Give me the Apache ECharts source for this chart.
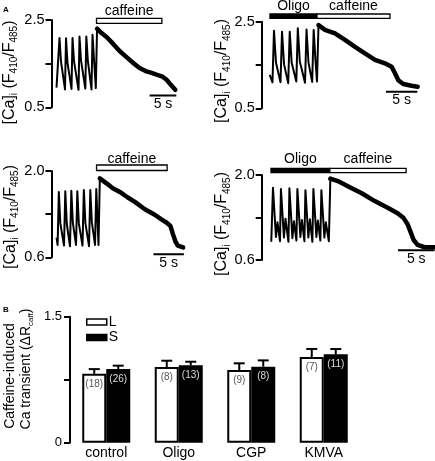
<!DOCTYPE html>
<html><head><meta charset="utf-8">
<script src="https://cdn.jsdelivr.net/npm/echarts@6/dist/echarts.min.js"></script>
<style>html,body{margin:0;padding:0;background:#fff}#c{width:435px;height:461px}</style>
</head><body><div id="c"></div>
<script>
// ---------------- data (time in s, ratio units) ----------------
const tlOsc = [[0.94,0.95],[1.50,2.09],[1.78,1.55],[2.53,0.91],[2.72,2.08],[3.00,1.52],[3.75,0.92],[3.94,2.09],[4.22,1.56],[5.07,0.90],[5.25,2.12],[5.53,1.58],[6.34,0.93],[6.53,2.12],[6.81,1.57],[7.50,0.91],[7.69,2.16],[7.97,1.60],[8.31,0.94],[8.54,2.30]];
const tlDecay = [[8.54,2.30],[9.38,2.20],[10.32,2.11],[11.44,1.97],[12.76,1.79],[14.07,1.65],[15.38,1.51],[16.51,1.40],[17.64,1.33],[18.76,1.29],[19.89,1.24],[20.83,1.20],[21.58,1.13],[22.33,1.02],[23.21,0.90]];
const tlCaffeine = [8.44, 20.69];
const tlScaleStart = 18.4;

const trOsc = [[1.28,1.27],[1.72,1.10],[1.96,2.29],[2.28,1.55],[3.00,1.10],[3.24,2.27],[3.56,1.52],[4.23,1.08],[4.47,2.27],[4.78,1.55],[5.52,1.12],[5.76,2.35],[6.08,1.58],[6.91,1.09],[7.15,2.32],[7.46,1.56],[8.05,1.11],[8.29,2.31],[8.58,1.60],[8.82,1.12],[9.06,2.42]];
const trDecay = [[9.06,2.42],[10.10,2.31],[11.69,2.23],[13.28,2.08],[14.88,1.92],[16.47,1.77],[18.07,1.62],[19.66,1.54],[20.73,1.46],[21.26,1.31],[21.79,1.15],[22.58,1.06],[23.92,1.02],[24.88,1.00]];
const trOligo = [1.32, 8.82];
const trCaffeine = [8.82, 20.46];
const trScaleStart = 19.82;

const blOsc = [[0.82,0.92],[1.00,0.80],[1.20,1.66],[1.45,1.15],[2.05,0.79],[2.26,1.67],[2.51,1.14],[3.03,0.78],[3.25,1.68],[3.50,1.16],[4.02,0.80],[4.23,1.67],[4.48,1.15],[5.08,0.79],[5.30,1.69],[5.55,1.16],[6.15,0.78],[6.36,1.69],[6.61,1.17],[7.13,0.80],[7.34,1.71],[7.70,0.80],[7.92,1.88]];
const blDecay = [[7.92,1.88],[9.02,1.80],[10.05,1.72],[11.20,1.66],[12.51,1.57],[13.66,1.50],[15.30,1.38],[16.92,1.29],[18.07,1.21],[18.89,1.16],[19.48,1.11],[19.89,0.98],[20.30,0.86],[20.70,0.79],[21.57,0.76]];
const blCaffeine = [7.38, 18.95];
const blScaleStart = 16.7;

const brOsc = [[1.31,0.90],[1.54,1.79],[1.95,0.98],[2.16,1.22],[2.50,0.91],[2.63,1.77],[3.04,0.97],[3.25,1.28],[3.66,0.90],[3.79,1.78],[4.20,0.96],[4.41,1.24],[4.75,0.92],[4.88,1.77],[5.29,0.98],[5.50,1.26],[5.84,0.91],[5.98,1.75],[6.38,0.97],[6.59,1.27],[6.93,0.90],[7.07,1.77],[7.48,0.98],[7.68,1.25],[8.02,0.92],[8.16,1.75],[8.57,0.97],[8.77,1.22],[9.18,0.91],[9.39,1.94]];
const brDecay = [[9.39,1.94],[10.41,1.90],[12.05,1.80],[13.68,1.70],[15.46,1.57],[17.23,1.46],[18.59,1.37],[19.41,1.29],[19.95,1.19],[20.37,1.06],[20.78,0.93],[21.32,0.85],[22.28,0.81],[23.64,0.81]];
const brOligo = [1.27, 9.32];
const brCaffeine = [9.32, 19.75];
const brScaleStart = 18.64;

const scaleSeconds = 5;

const categories = ['control', 'Oligo', 'CGP', 'KMVA'];
const meanL = [0.82, 0.90, 0.865, 1.02];
const semL  = [0.056, 0.076, 0.08, 0.096];
const meanS = [0.877, 0.921, 0.905, 1.052];
const semS  = [0.04, 0.043, 0.075, 0.063];
const nL = [18, 8, 9, 7];
const nS = [26, 13, 8, 11];

// ---------------- layout ----------------
const FONT = '"Liberation Sans", Arial, Helvetica, sans-serif';
const panels = [
  {osc: tlOsc, decay: tlDecay, xMax: 24, y: [0.5, 2.5, 1], scale: tlScaleStart, scaleV: 0.77,
   grid: {left: 51.5, top: 20, width: 128, height: 87.3},
   marks: [{span: tlCaffeine, text: 'caffeine', dark: false}], barPx: [18.3, 23.3], textY: 11.5, label: [9.5, 72.5]},
  {osc: trOsc, decay: trDecay, xMax: 26, y: [0.5, 2.5, 1], scale: trScaleStart, scaleV: 0.88,
   grid: {left: 261.7, top: 21.7, width: 163, height: 86.6},
   marks: [{span: trOligo, text: 'Oligo', dark: true}, {span: trCaffeine, text: 'caffeine', dark: false}], barPx: [14, 18.3], textY: 6.5, label: [222, 71]},
  {osc: blOsc, decay: blDecay, xMax: 22.5, y: [0.6, 2.0, 0.7], scale: blScaleStart, scaleV: 0.65,
   grid: {left: 51.5, top: 171, width: 137.3, height: 86.3},
   marks: [{span: blCaffeine, text: 'caffeine', dark: false}], barPx: [165, 170.5], textY: 159, label: [10.5, 217]},
  {osc: brOsc, decay: brDecay, xMax: 23.7, y: [0.6, 2.0, 0.7], scale: brScaleStart, scaleV: 0.76,
   grid: {left: 261.7, top: 175, width: 173.7, height: 85},
   marks: [{span: brOligo, text: 'Oligo', dark: true}, {span: brCaffeine, text: 'caffeine', dark: false}], barPx: [168.3, 172.7], textY: 159.5, label: [222, 224]}
];

const chart = echarts.init(document.getElementById('c'), null, {renderer: 'canvas'});

const grids = [], xAxes = [], yAxes = [], series = [];
panels.forEach((p, i) => {
  grids.push(p.grid);
  xAxes.push({gridIndex: i, type: 'value', min: 0, max: p.xMax, show: false});
  const mn = p.y[0], mx = p.y[1];
  yAxes.push({gridIndex: i, type: 'value', min: mn, max: mx, interval: p.y[2],
    axisLine: {show: true, lineStyle: {color: '#000', width: 2}},
    axisTick: {show: true, length: 6, lineStyle: {color: '#000', width: 2}},
    splitLine: {show: false},
    axisLabel: {margin: 7, fontSize: 14.5, color: '#000', fontFamily: FONT,
      formatter: v => (Math.abs(v - mn) < 1e-6 || Math.abs(v - mx) < 1e-6) ? v.toFixed(1) : ''}
  });
  const common = {type: 'line', xAxisIndex: i, yAxisIndex: i, symbol: 'none', silent: true, animation: false};
  series.push(Object.assign({}, common, {data: p.osc, lineStyle: {color: '#000', width: 2, join: 'round'}}));
  series.push(Object.assign({}, common, {data: p.decay, lineStyle: {color: '#000', width: 4.5, join: 'round', cap: 'round'}}));
  series.push(Object.assign({}, common, {data: [[p.scale, p.scaleV], [p.scale + scaleSeconds, p.scaleV]], lineStyle: {color: '#000', width: 2}}));
});

// panel B
const bi = panels.length;
grids.push({left: 70, top: 316.7, width: 290, height: 126});
xAxes.push({gridIndex: bi, type: 'category', data: categories,
  axisLine: {show: false}, axisTick: {show: false},
  axisLabel: {margin: 3, fontSize: 14, color: '#000', fontFamily: FONT}});
yAxes.push({gridIndex: bi, type: 'value', min: 0, max: 1.5, interval: 0.75,
  axisLine: {show: true, lineStyle: {color: '#000', width: 2}},
  axisTick: {show: true, length: 6, lineStyle: {color: '#000', width: 2}},
  splitLine: {show: false},
  axisLabel: {margin: 8, fontSize: 13, color: '#000', fontFamily: FONT,
    formatter: v => v === 0 ? '0' : (Math.abs(v - 1.5) < 1e-6 ? '1.5' : '')}});
series.push({name: 'L', type: 'bar', xAxisIndex: bi, yAxisIndex: bi, data: meanL, barWidth: 24, barGap: '0%',
  itemStyle: {color: '#fff', borderColor: '#000', borderWidth: 2},
  label: {show: true, position: 'insideTop', distance: 5, fontSize: 10, color: '#555', fontFamily: FONT,
    formatter: prm => '(' + nL[prm.dataIndex] + ')'}, animation: false});
series.push({name: 'S', type: 'bar', xAxisIndex: bi, yAxisIndex: bi, data: meanS, barWidth: 24, barGap: '0%',
  itemStyle: {color: '#000', borderColor: '#000', borderWidth: 2},
  label: {show: true, position: 'insideTop', distance: 5, fontSize: 10, color: '#ddd', fontFamily: FONT,
    formatter: prm => '(' + nS[prm.dataIndex] + ')'}, animation: false});
function errSeries(means, sems, off) {
  return {type: 'custom', xAxisIndex: bi, yAxisIndex: bi, z: 10, silent: true, animation: false,
    data: means.map((m, k) => [k, m, sems[k]]),
    renderItem: (params, api) => {
      const c = api.coord([api.value(0), api.value(1)]);
      const t = api.coord([api.value(0), api.value(1) + api.value(2)]);
      const x = c[0] + off;
      return {type: 'group', children: [
        {type: 'line', shape: {x1: x, y1: c[1], x2: x, y2: t[1]}, style: {stroke: '#000', lineWidth: 2}},
        {type: 'line', shape: {x1: x - 5.5, y1: t[1], x2: x + 5.5, y2: t[1]}, style: {stroke: '#000', lineWidth: 2}}
      ]};
    }};
}
series.push(errSeries(meanL, semL, -12));
series.push(errSeries(meanS, semS, 12));

chart.setOption({
  animation: false,
  textStyle: {fontFamily: FONT},
  grid: grids, xAxis: xAxes, yAxis: yAxes, series: series,
  legend: {data: ['L', 'S'], orient: 'vertical', left: 81, top: 310, itemWidth: 20, itemHeight: 6, itemGap: 1.5,
    icon: 'rect', itemStyle: {borderColor: '#000', borderWidth: 1.5},
    textStyle: {fontSize: 14, color: '#000', lineHeight: 12, padding: [0, 0, 0, -3], fontFamily: FONT}, selectedMode: false}
});

// annotations positioned through the axes
const graphic = [];
const richLab = {
  n: {fontSize: 16, fontFamily: FONT, fill: '#000', lineHeight: 20},
  s: {fontSize: 10, fontFamily: FONT, fill: '#000', lineHeight: 10, verticalAlign: 'bottom'}
};
panels.forEach((p, i) => {
  const toPx = (t, v) => chart.convertToPixel({gridIndex: i}, [t, v]);
  p.marks.forEach(m => {
    const x1 = toPx(m.span[0], p.y[0])[0], x2 = toPx(m.span[1], p.y[0])[0];
    graphic.push({type: 'rect', shape: {x: x1, y: p.barPx[0], width: x2 - x1, height: p.barPx[1] - p.barPx[0]},
      style: {fill: m.dark ? '#000' : '#fff', stroke: '#000', lineWidth: 1.3}});
    graphic.push({type: 'text', x: (x1 + x2) / 2, y: p.textY,
      style: {text: m.text, font: '14px ' + FONT, fill: '#000', align: 'center', verticalAlign: 'middle'}});
  });
  const sc = toPx(p.scale + scaleSeconds / 2, p.scaleV);
  graphic.push({type: 'text', x: sc[0], y: sc[1] + 1.5,
    style: {text: scaleSeconds + ' s', font: '14px ' + FONT, fill: '#000', align: 'center', verticalAlign: 'top'}});
  graphic.push({type: 'text', x: p.label[0], y: p.label[1], rotation: Math.PI / 2,
    style: {text: '{n|[Ca]}{s|i}{n| (F}{s|410}{n|/F}{s|485}{n|)}', rich: richLab, align: 'center', verticalAlign: 'middle'}});
});
graphic.push({type: 'text', x: 10, y: 376, rotation: Math.PI / 2,
  style: {text: 'Caffeine-induced', font: '14px ' + FONT, fill: '#000', align: 'center', verticalAlign: 'middle'}});
graphic.push({type: 'text', x: 26, y: 369, rotation: Math.PI / 2,
  style: {text: '{n|Ca transient (ΔR}{s|caff}{n|)}', align: 'center', verticalAlign: 'middle',
    rich: {n: {fontSize: 14, fontFamily: FONT, fill: '#000', lineHeight: 18},
           s: {fontSize: 8, fontFamily: FONT, fill: '#000', lineHeight: 8, verticalAlign: 'bottom'}}}});
graphic.push({type: 'text', x: 3, y: 6, style: {text: 'A', font: 'bold 8px ' + FONT, fill: '#000'}});
graphic.push({type: 'text', x: 3, y: 306, style: {text: 'B', font: 'bold 8px ' + FONT, fill: '#000'}});

chart.setOption({graphic: graphic});
</script>
</body></html>
